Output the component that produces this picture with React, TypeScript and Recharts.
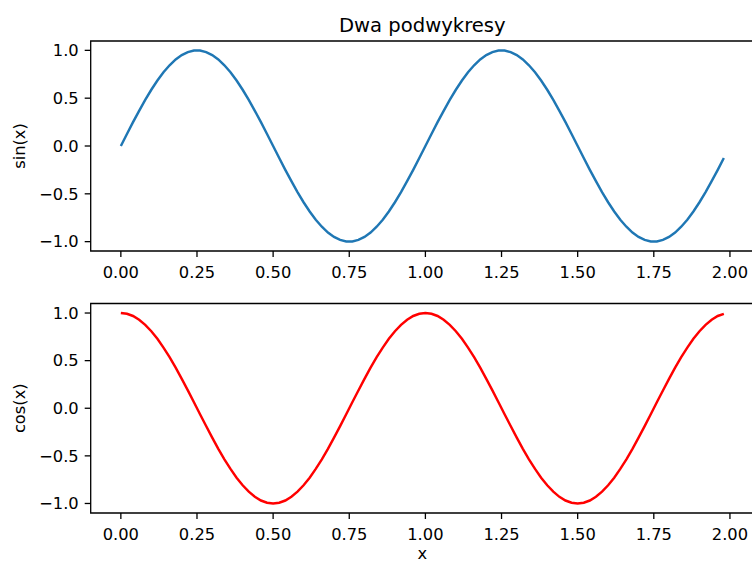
import React from 'react';
import { LineChart, Line, XAxis, YAxis, ReferenceArea } from 'recharts';

// Sample positions along x (step 0.02)
const xs = [
  0.0, 0.02, 0.04, 0.06, 0.08, 0.1, 0.12, 0.14, 0.16, 0.18,
  0.2, 0.22, 0.24, 0.26, 0.28, 0.3, 0.32, 0.34, 0.36, 0.38,
  0.4, 0.42, 0.44, 0.46, 0.48, 0.5, 0.52, 0.54, 0.56, 0.58,
  0.6, 0.62, 0.64, 0.66, 0.68, 0.7, 0.72, 0.74, 0.76, 0.78,
  0.8, 0.82, 0.84, 0.86, 0.88, 0.9, 0.92, 0.94, 0.96, 0.98,
  1.0, 1.02, 1.04, 1.06, 1.08, 1.1, 1.12, 1.14, 1.16, 1.18,
  1.2, 1.22, 1.24, 1.26, 1.28, 1.3, 1.32, 1.34, 1.36, 1.38,
  1.4, 1.42, 1.44, 1.46, 1.48, 1.5, 1.52, 1.54, 1.56, 1.58,
  1.6, 1.62, 1.64, 1.66, 1.68, 1.7, 1.72, 1.74, 1.76, 1.78,
  1.8, 1.82, 1.84, 1.86, 1.88, 1.9, 1.92, 1.94, 1.96, 1.98,
];

// Upper panel: sin(x)
const sinValues = [
  0.0, 0.125, 0.249, 0.368, 0.482, 0.588, 0.685, 0.771, 0.844, 0.905,
  0.951, 0.982, 0.998, 0.998, 0.982, 0.951, 0.905, 0.844, 0.771, 0.685,
  0.588, 0.482, 0.368, 0.249, 0.125, 0.0, -0.125, -0.249, -0.368, -0.482,
  -0.588, -0.685, -0.771, -0.844, -0.905, -0.951, -0.982, -0.998, -0.998, -0.982,
  -0.951, -0.905, -0.844, -0.771, -0.685, -0.588, -0.482, -0.368, -0.249, -0.125,
  0.0, 0.125, 0.249, 0.368, 0.482, 0.588, 0.685, 0.771, 0.844, 0.905,
  0.951, 0.982, 0.998, 0.998, 0.982, 0.951, 0.905, 0.844, 0.771, 0.685,
  0.588, 0.482, 0.368, 0.249, 0.125, 0.0, -0.125, -0.249, -0.368, -0.482,
  -0.588, -0.685, -0.771, -0.844, -0.905, -0.951, -0.982, -0.998, -0.998, -0.982,
  -0.951, -0.905, -0.844, -0.771, -0.685, -0.588, -0.482, -0.368, -0.249, -0.125,
];

// Lower panel: cos(x)
const cosValues = [
  1.0, 0.992, 0.969, 0.93, 0.876, 0.809, 0.729, 0.637, 0.536, 0.426,
  0.309, 0.187, 0.063, -0.063, -0.187, -0.309, -0.426, -0.536, -0.637, -0.729,
  -0.809, -0.876, -0.93, -0.969, -0.992, -1.0, -0.992, -0.969, -0.93, -0.876,
  -0.809, -0.729, -0.637, -0.536, -0.426, -0.309, -0.187, -0.063, 0.063, 0.187,
  0.309, 0.426, 0.536, 0.637, 0.729, 0.809, 0.876, 0.93, 0.969, 0.992,
  1.0, 0.992, 0.969, 0.93, 0.876, 0.809, 0.729, 0.637, 0.536, 0.426,
  0.309, 0.187, 0.063, -0.063, -0.187, -0.309, -0.426, -0.536, -0.637, -0.729,
  -0.809, -0.876, -0.93, -0.969, -0.992, -1.0, -0.992, -0.969, -0.93, -0.876,
  -0.809, -0.729, -0.637, -0.536, -0.426, -0.309, -0.187, -0.063, 0.063, 0.187,
  0.309, 0.426, 0.536, 0.637, 0.729, 0.809, 0.876, 0.93, 0.969, 0.992,
];

const xTicks = [0, 0.25, 0.5, 0.75, 1.0, 1.25, 1.5, 1.75, 2.0];
const yTicks = [-1.0, -0.5, 0.0, 0.5, 1.0];

const FONT = '"DejaVu Sans", "Liberation Sans", sans-serif';
const TICK_FONT = 16.3;
const SPINE = 1.3;

const fmt = (v: number, digits: number) =>
  (v < -1e-9 ? '\u2212' : '') + Math.abs(v).toFixed(digits);

// Axis limits with a 5% margin around the data, like autoscaled axes
const padded = (vals: number[]): [number, number] => {
  const lo = Math.min(...vals);
  const hi = Math.max(...vals);
  const m = (hi - lo) * 0.05;
  return [lo - m, hi + m];
};

const xDomain = padded(xs);
const sinRows = xs.map((x, i) => ({ x, y: sinValues[i] }));
const cosRows = xs.map((x, i) => ({ x, y: cosValues[i] }));

const yTitle = (text: string) => (props: any) => {
  const vb = props.viewBox || {};
  const cy = (vb.y ?? 0) + (vb.height ?? 0) / 2;
  const x = 24.6;
  return (
    <text
      x={x}
      y={cy}
      transform={`rotate(-90 ${x} ${cy})`}
      textAnchor="middle"
      fontSize={TICK_FONT}
      fontFamily={FONT}
      fill="#000"
    >
      {text}
    </text>
  );
};

const xTitle = (text: string, baseline: number) => (props: any) => {
  const vb = props.viewBox || {};
  const cx = (vb.x ?? 0) + (vb.width ?? 0) / 2;
  return (
    <text x={cx} y={baseline} textAnchor="middle" fontSize={TICK_FONT} fontFamily={FONT} fill="#000">
      {text}
    </text>
  );
};

type PanelProps = {
  rows: { x: number; y: number }[];
  values: number[];
  color: string;
  yLabel: string;
  height: number;
  marginTop: number;
  marginBottom: number;
  xAxisHeight: number;
  xLabel?: string;
};

function Panel({ rows, values, color, yLabel, height, marginTop, marginBottom, xAxisHeight, xLabel }: PanelProps) {
  const yDomain = padded(values);
  const tickStyle = { fill: '#000', fontSize: TICK_FONT, fontFamily: FONT };
  return (
    <LineChart
      width={760}
      height={height}
      data={rows}
      margin={{ top: marginTop, right: 6, bottom: marginBottom, left: 0 }}
    >
      <XAxis
        dataKey="x"
        type="number"
        domain={xDomain}
        allowDataOverflow
        ticks={xTicks}
        interval={0}
        tickFormatter={(v: number) => fmt(v, 2)}
        axisLine={false}
        tickLine={{ stroke: '#000', strokeWidth: SPINE }}
        tickSize={6}
        tickMargin={9}
        height={xAxisHeight}
        tick={tickStyle}
        label={xLabel ? { content: xTitle(xLabel, height - 4) } : undefined}
      />
      <YAxis
        type="number"
        domain={yDomain}
        allowDataOverflow
        ticks={yTicks}
        interval={0}
        tickFormatter={(v: number) => fmt(v, 1)}
        axisLine={false}
        tickLine={{ stroke: '#000', strokeWidth: SPINE }}
        tickSize={6}
        tickMargin={6}
        width={90.7}
        tick={tickStyle}
        label={{ content: yTitle(yLabel) }}
      />
      <ReferenceArea
        x1={xDomain[0]}
        x2={xDomain[1]}
        y1={yDomain[0]}
        y2={yDomain[1]}
        fill="none"
        fillOpacity={0}
        stroke="#000"
        strokeOpacity={1}
        strokeWidth={SPINE}
        ifOverflow="visible"
      />
      <Line
        type="linear"
        dataKey="y"
        stroke={color}
        strokeWidth={2.45}
        dot={false}
        activeDot={false}
        isAnimationActive={false}
      />
    </LineChart>
  );
}

export default function App() {
  return (
    <div
      style={{
        position: 'absolute',
        left: 0,
        top: 0,
        width: 752,
        height: 563,
        overflow: 'hidden',
        background: '#fff',
        fontFamily: FONT,
      }}
    >
      <svg width={752} height={41} style={{ position: 'absolute', left: 0, top: 0 }}>
        <text x={422.3} y={31.5} textAnchor="middle" fontSize={19.6} fontFamily={FONT} fill="#000">
          Dwa podwykresy
        </text>
      </svg>
      <div style={{ position: 'absolute', left: 0, top: 0 }}>
        <Panel
          rows={sinRows}
          values={sinValues}
          color="#1f77b4"
          yLabel="sin(x)"
          height={290}
          marginTop={41}
          marginBottom={9}
          xAxisHeight={30}
        />
      </div>
      <div style={{ position: 'absolute', left: 0, top: 290 }}>
        <Panel
          rows={cosRows}
          values={cosValues}
          color="#ff0000"
          yLabel="cos(x)"
          height={273}
          marginTop={13.5}
          marginBottom={0}
          xAxisHeight={50}
          xLabel="x"
        />
      </div>
    </div>
  );
}
